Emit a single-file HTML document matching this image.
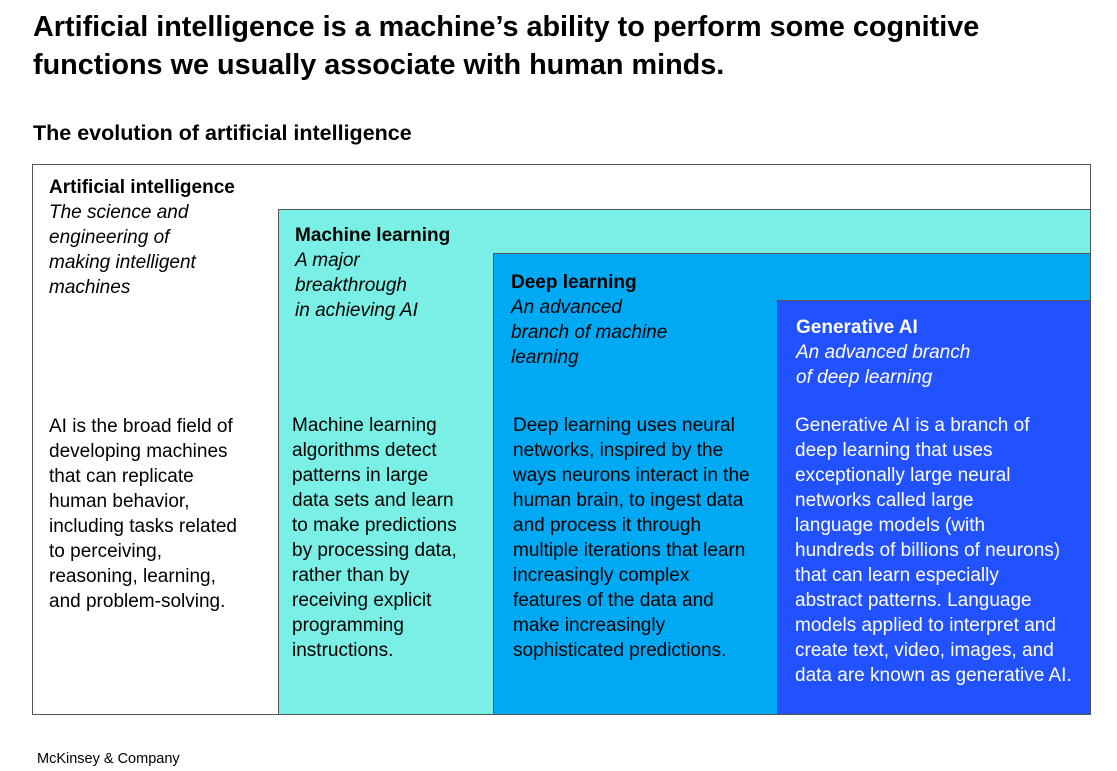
<!DOCTYPE html>
<html><head><meta charset="utf-8"><style>
body{margin:0;width:1117px;height:771px;background:#fff;font-family:"Liberation Sans",sans-serif;color:#000;position:relative;overflow:hidden}
.a{position:absolute}
.box{position:absolute;border:1px solid #555;box-sizing:border-box}
.t{position:absolute;font-size:19px;line-height:25px;white-space:nowrap}
.h{font-weight:bold}
.i{font-style:italic}
</style></head><body>
<div class="a" style="left:33px;top:8px;font-size:28.8px;line-height:38px;font-weight:bold">Artificial intelligence is a machine’s ability to perform some cognitive<br>functions we usually associate with human minds.</div>
<div class="a" style="left:33px;top:120px;font-size:21.5px;line-height:26px;font-weight:bold">The evolution of artificial intelligence</div>
<div class="box" style="left:32px;top:164px;width:1059px;height:551px;background:#fff"></div>
<div class="box" style="left:278px;top:209px;width:813px;height:506px;background:#79efe5"></div>
<div class="box" style="left:493px;top:253px;width:598px;height:462px;background:#00a9f4"></div>
<div class="box" style="left:777px;top:300px;width:314px;height:415px;background:#2251ff"></div>

<div class="t" style="left:49px;top:175px"><span class="h">Artificial intelligence</span><br><span class="i">The science and<br>engineering of<br>making intelligent<br>machines</span></div>
<div class="t" style="left:49px;top:414px">AI is the broad field of<br>developing machines<br>that can replicate<br>human behavior,<br>including tasks related<br>to perceiving,<br>reasoning, learning,<br>and problem-solving.</div>

<div class="t" style="left:295px;top:223px"><span class="h">Machine learning</span><br><span class="i">A major<br>breakthrough<br>in achieving AI</span></div>
<div class="t" style="left:292px;top:413px">Machine learning<br>algorithms detect<br>patterns in large<br>data sets and learn<br>to make predictions<br>by processing data,<br>rather than by<br>receiving explicit<br>programming<br>instructions.</div>

<div class="t" style="left:511px;top:270px"><span class="h">Deep learning</span><br><span class="i">An advanced<br>branch of machine<br>learning</span></div>
<div class="t" style="left:513px;top:413px">Deep learning uses neural<br>networks, inspired by the<br>ways neurons interact in the<br>human brain, to ingest data<br>and process it through<br>multiple iterations that learn<br>increasingly complex<br>features of the data and<br>make increasingly<br>sophisticated predictions.</div>

<div class="t" style="left:796px;top:315px;color:#fff"><span class="h">Generative AI</span><br><span class="i">An advanced branch<br>of deep learning</span></div>
<div class="t" style="left:795px;top:413px;color:#fff">Generative AI is a branch of<br>deep learning that uses<br>exceptionally large neural<br>networks called large<br>language models (with<br>hundreds of billions of neurons)<br>that can learn especially<br>abstract patterns. Language<br>models applied to interpret and<br>create text, video, images, and<br>data are known as generative AI.</div>

<div class="a" style="left:37px;top:750px;font-size:14.5px;line-height:18px">McKinsey &amp; Company</div>
</body></html>
